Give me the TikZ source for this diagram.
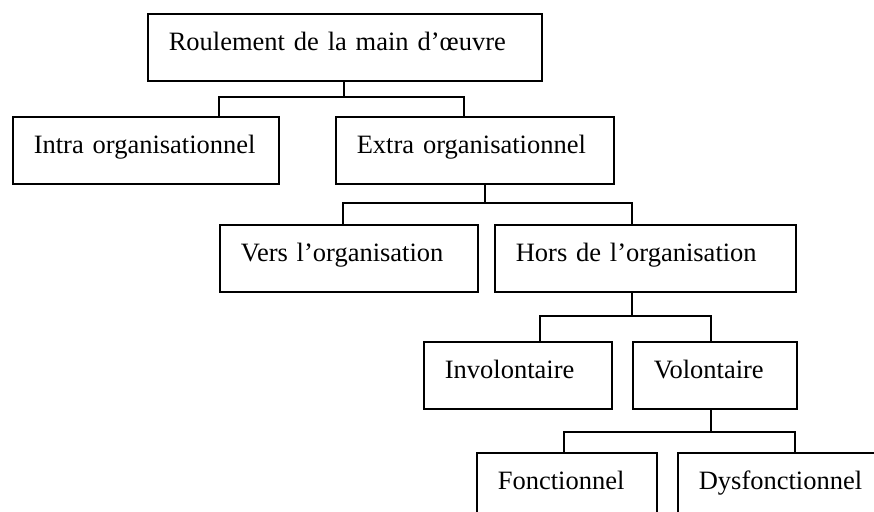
\documentclass[tikz,border=0pt]{standalone}
\usepackage{fontspec}
\setmainfont{Liberation Serif}
\begin{document}
\begin{tikzpicture}[x=1pt,y=-1pt,
  box/.style={draw,line width=1.6pt,rectangle,anchor=north west,inner sep=0pt,
    minimum height=67pt,minimum width=#1,text width=#1-42pt,align=left,
    text height=20pt,text depth=14pt,
    font=\fontsize{26.5}{30}\selectfont},
  link/.style={line width=1.6pt}]
\useasboundingbox (0,0) rectangle (874,511);
\clip (0,0) rectangle (874,511);
% boxes
\node[box=394pt] (r) at (147,13) {Roulement de la main d’œuvre};
\node[box=266pt] (intra) at (12,116) {Intra organisationnel};
\node[box=278pt] (extra) at (335,116) {Extra organisationnel};
\node[box=258pt] (vers) at (219,224) {Vers l’organisation};
\node[box=301pt] (hors) at (494,224) {Hors de l’organisation};
\node[box=188pt] (invol) at (423,341) {Involontaire};
\node[box=164pt] (vol) at (632,341) {Volontaire};
\node[box=180pt] (fonc) at (476,452) {Fonctionnel};
\node[box=206pt] (dysf) at (677,452) {Dysfonctionnel};
% junction coordinates
\coordinate (j1) at (344,97);
\coordinate (a1) at (219,97);
\coordinate (b1) at (464,97);
\coordinate (j2) at (485,203);
\coordinate (a2) at (343,203);
\coordinate (b2) at (632,203);
\coordinate (j3) at (632,316);
\coordinate (a3) at (540,316);
\coordinate (b3) at (711,316);
\coordinate (j4) at (711,432);
\coordinate (a4) at (564,432);
\coordinate (b4) at (795,432);
% connectors
\draw[link] (r.south -| j1) -- (j1);
\draw[link] (intra.north -| a1) -- (a1) -- (b1) -- (extra.north -| b1);
\draw[link] (extra.south -| j2) -- (j2);
\draw[link] (vers.north -| a2) -- (a2) -- (b2) -- (hors.north -| b2);
\draw[link] (hors.south -| j3) -- (j3);
\draw[link] (invol.north -| a3) -- (a3) -- (b3) -- (vol.north -| b3);
\draw[link] (vol.south -| j4) -- (j4);
\draw[link] (fonc.north -| a4) -- (a4) -- (b4) -- (dysf.north -| b4);
\end{tikzpicture}
\end{document}
